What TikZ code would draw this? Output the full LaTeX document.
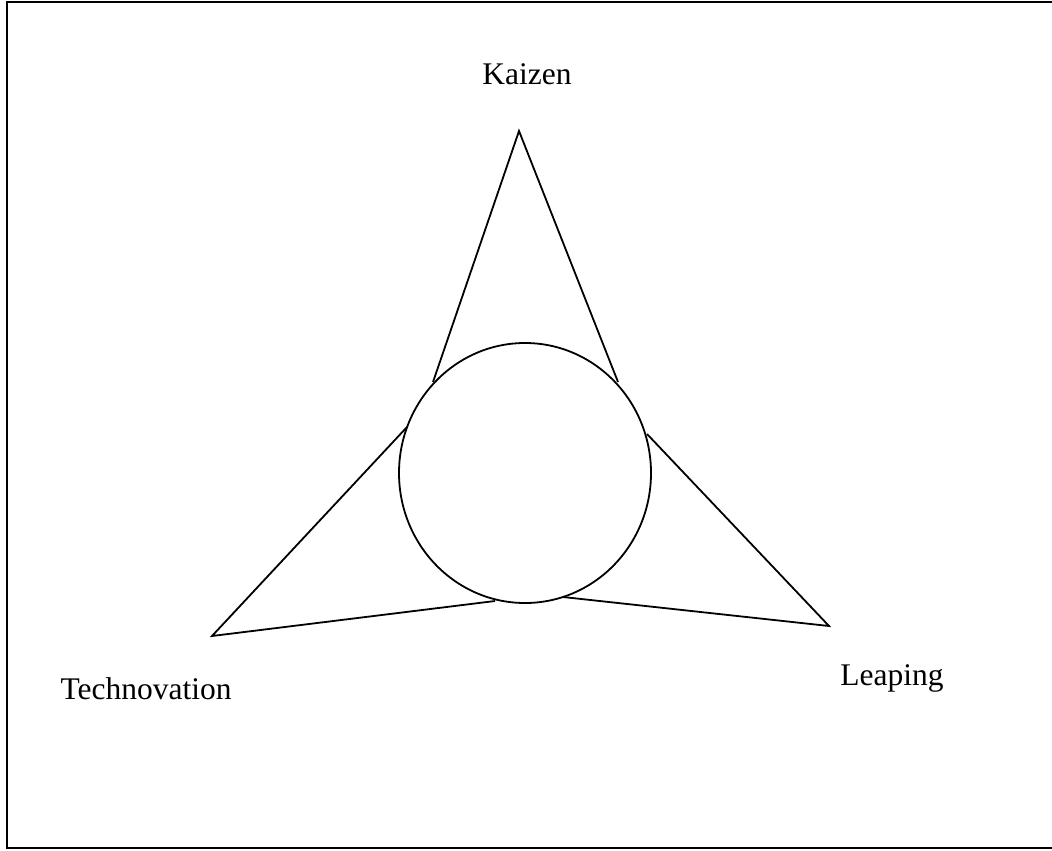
\documentclass[tikz,border=0pt]{standalone}
\usepackage{fontspec}
\setmainfont{Liberation Serif}
\usetikzlibrary{shapes.geometric}

\begin{document}
\begin{tikzpicture}[
  x=0.5pt, y=-0.5pt,
  edge/.style={line width=0.9pt},
  label/.style={anchor=base, inner sep=0pt, font=\fontsize{15.75}{19}\selectfont},
  hub/.style={draw, ellipse, line width=0.9pt, minimum width=126pt, minimum height=130pt, inner sep=0pt}
]
\useasboundingbox (0,0) rectangle (1052,850);
\draw[line width=1pt] (1052,2) -- (7,2) -- (7,848) -- (1052,848);

\node[hub] (core) at (525,473) {};

\coordinate (kaizenTip) at (519,131);
\coordinate (kaizenL) at (433,382);
\coordinate (kaizenR) at (618,382);
\coordinate (technoTip) at (212,636);
\coordinate (technoU) at (407,427);
\coordinate (technoD) at (495,601);
\coordinate (leapTip) at (829,626);
\coordinate (leapU) at (647,434);
\coordinate (leapD) at (563,597);

\draw[edge] (kaizenL) -- (kaizenTip) -- (kaizenR);
\draw[edge] (technoU) -- (technoTip) -- (technoD);
\draw[edge] (leapU) -- (leapTip) -- (leapD);

\node[label] (kaizen) at (527,85) {Kaizen};
\node[label] (techno) at (146,699) {Technovation};
\node[label] (leap) at (892,685) {Leaping};
\end{tikzpicture}
\end{document}
